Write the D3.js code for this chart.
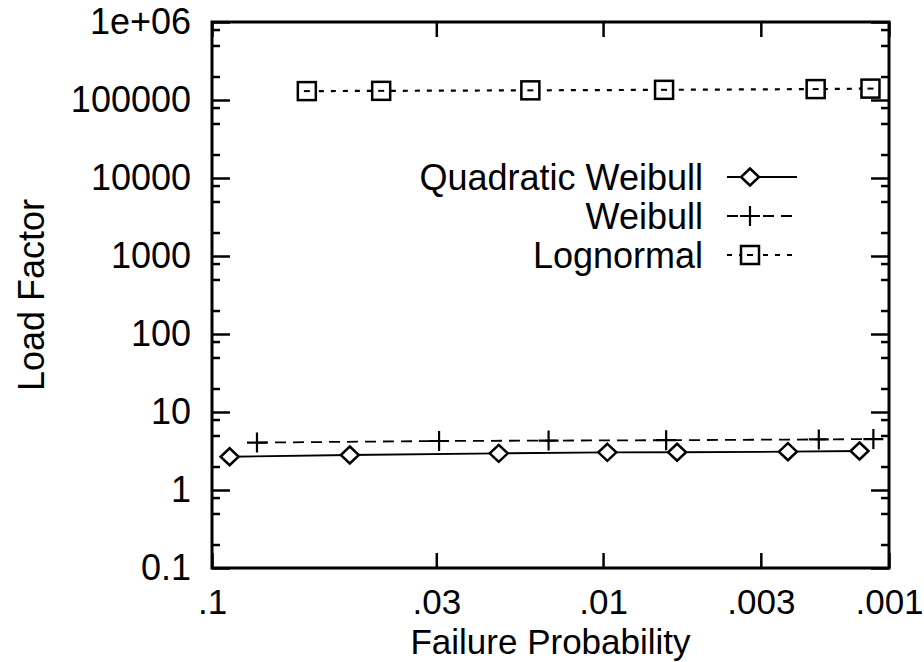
<!DOCTYPE html>
<html>
<head>
<meta charset="utf-8">
<script src="https://cdn.jsdelivr.net/npm/d3@7/dist/d3.min.js"></script>
<style>
    html, body { margin: 0; padding: 0; background: #fff; }
    svg { display: block; }
    text { font-family: "Liberation Sans", Arial, Helvetica, sans-serif; fill: #000; }
</style>
</head>
<body>
<div id="chart"></div>
<script>
    "use strict";

    // failure probability (x) and load factor (y)
    var quadWeibullP = [0.092, 0.0495, 0.0203, 0.0097, 0.0058, 0.0024, 0.0013];
    var quadWeibullLoad = [2.67, 2.81, 2.95, 3.04, 3.05, 3.10, 3.16];

    var weibullP = [0.0805, 0.0295, 0.0146, 0.0063, 0.00185, 0.00115];
    var weibullLoad = [4.05, 4.25, 4.3, 4.35, 4.45, 4.5];

    var lognormalP = [0.0624, 0.0415, 0.0165, 0.0064, 0.0019, 0.00118];
    var lognormalLoad = [130000, 131000, 133000, 135000, 138000, 140000];

    var xTickValues = [0.1, 0.03, 0.01, 0.003, 0.001];
    var xTickLabels = [".1", ".03", ".01", ".003", ".001"];
    var yTickValues = [0.1, 1, 10, 100, 1000, 10000, 100000, 1000000];
    var yTickLabels = ["0.1", "1", "10", "100", "1000", "10000", "100000", "1e+06"];
    var yMinorSteps = [2, 5, 8];

    var legendNames = ["Quadratic Weibull", "Weibull", "Lognormal"];

    // inverse of the standard normal cdf (Acklam)
    function invNorm(p) {
        var a = [-3.969683028665376e+01, 2.209460984245205e+02, -2.759285104469687e+02, 1.383577518672690e+02, -3.066479806614716e+01, 2.506628277459239e+00];
        var b = [-5.447609879822406e+01, 1.615858368580409e+02, -1.556989798598866e+02, 6.680131188771972e+01, -1.328068155288572e+01];
        var c = [-7.784894002430293e-03, -3.223964580411365e-01, -2.400758277161838e+00, -2.549732539343734e+00, 4.374664141464968e+00, 2.938163982698783e+00];
        var d = [7.784695709041462e-03, 3.224671290700398e-01, 2.445134137142996e+00, 3.754408661907416e+00];
        var q, r;
        if (p < 0.02425) {
            q = Math.sqrt(-2 * Math.log(p));
            return (((((c[0] * q + c[1]) * q + c[2]) * q + c[3]) * q + c[4]) * q + c[5]) /
                ((((d[0] * q + d[1]) * q + d[2]) * q + d[3]) * q + 1);
        } else if (p <= 1 - 0.02425) {
            q = p - 0.5;
            r = q * q;
            return (((((a[0] * r + a[1]) * r + a[2]) * r + a[3]) * r + a[4]) * r + a[5]) * q /
                (((((b[0] * r + b[1]) * r + b[2]) * r + b[3]) * r + b[4]) * r + 1);
        }
        q = Math.sqrt(-2 * Math.log(1 - p));
        return -(((((c[0] * q + c[1]) * q + c[2]) * q + c[3]) * q + c[4]) * q + c[5]) /
            ((((d[0] * q + d[1]) * q + d[2]) * q + d[3]) * q + 1);
    }
    // reliability index: x axis is linear in beta
    function beta(p) { return -invNorm(p); }

    var width = 924, height = 662;
    var margin = { top: 22, right: 35, bottom: 94, left: 212 };
    var plotW = width - margin.left - margin.right;
    var plotH = height - margin.top - margin.bottom;

    var x = d3.scaleLinear().domain([beta(0.1), beta(0.001)]).range([0, plotW]);
    var y = d3.scaleLog().domain([0.1, 1e6]).range([plotH, 0]);

    var svg = d3.select("#chart").append("svg")
        .attr("width", width)
        .attr("height", height);
    svg.append("rect").attr("width", width).attr("height", height).attr("fill", "#fff");

    var g = svg.append("g").attr("transform", "translate(" + margin.left + "," + margin.top + ")");

    var yMinor = [];
    yTickValues.slice(0, -1).forEach(function(v) {
        yMinorSteps.forEach(function(s) { yMinor.push(v * s); });
    });

    function styleAxis(sel, size) {
        sel.select(".domain").remove();
        sel.selectAll("line").attr("stroke", "#000").attr("stroke-width", 2.5);
        sel.selectAll("text").attr("font-family", null).attr("fill", "#000").style("font-size", (size || 36) + "px");
    }

    // bottom + top
    g.append("g")
        .attr("transform", "translate(0," + plotH + ")")
        .call(d3.axisBottom(x)
            .tickValues(xTickValues.map(beta))
            .tickFormat(function(d, i) { return xTickLabels[i]; })
            .tickSizeInner(-15).tickSizeOuter(0).tickPadding(21))
        .call(styleAxis, 35);
    g.append("g")
        .call(d3.axisTop(x)
            .tickValues(xTickValues.map(beta))
            .tickFormat("")
            .tickSizeInner(-15).tickSizeOuter(0))
        .call(styleAxis);

    // left + right, major and minor
    g.append("g")
        .call(d3.axisLeft(y)
            .tickValues(yTickValues)
            .tickFormat(function(d, i) { return yTickLabels[i]; })
            .tickSizeInner(-18).tickSizeOuter(0).tickPadding(21))
        .call(styleAxis, 36);
    g.append("g")
        .call(d3.axisLeft(y).tickValues(yMinor).tickFormat("").tickSizeInner(-8).tickSizeOuter(0))
        .call(styleAxis);
    g.append("g")
        .attr("transform", "translate(" + plotW + ",0)")
        .call(d3.axisRight(y).tickValues(yTickValues).tickFormat("").tickSizeInner(-18).tickSizeOuter(0))
        .call(styleAxis);
    g.append("g")
        .attr("transform", "translate(" + plotW + ",0)")
        .call(d3.axisRight(y).tickValues(yMinor).tickFormat("").tickSizeInner(-8).tickSizeOuter(0))
        .call(styleAxis);

    // frame
    g.append("rect")
        .attr("width", plotW)
        .attr("height", plotH)
        .attr("fill", "none")
        .attr("stroke", "#000")
        .attr("stroke-width", 3);

    // axis titles
    svg.append("text")
        .attr("x", margin.left + plotW / 2)
        .attr("y", 654)
        .attr("text-anchor", "middle")
        .style("font-size", "35px")
        .text("Failure Probability");
    svg.append("text")
        .attr("transform", "translate(44," + (margin.top + plotH / 2) + ") rotate(-90)")
        .attr("text-anchor", "middle")
        .style("font-size", "36px")
        .text("Load Factor");

    // markers
    function diamond(sel) {
        sel.append("path").attr("d", "M0,-8.5L9,0L0,8.5L-9,0Z")
            .attr("fill", "#fff").attr("stroke", "#000").attr("stroke-width", 2.5);
    }
    function cross(sel) {
        sel.append("path").attr("d", "M-10,0H10M0,-10V10")
            .attr("fill", "none").attr("stroke", "#000").attr("stroke-width", 2.2);
    }
    function square(sel) {
        sel.append("rect").attr("x", -9).attr("y", -9).attr("width", 18).attr("height", 18)
            .attr("fill", "#fff").attr("stroke", "#000").attr("stroke-width", 2.5);
        sel.append("path").attr("d", "M-3,0H3").attr("stroke", "#000").attr("stroke-width", 2);
    }

    var series = [
        { name: legendNames[0], p: quadWeibullP, v: quadWeibullLoad, dash: null, width: 1.8, marker: diamond },
        { name: legendNames[1], p: weibullP, v: weibullLoad, dash: "11,7", width: 1.8, marker: cross },
        { name: legendNames[2], p: lognormalP, v: lognormalLoad, dash: "5,7", width: 2.2, marker: square }
    ];

    var line = d3.line()
        .x(function(d) { return x(beta(d[0])); })
        .y(function(d) { return y(d[1]); });

    series.forEach(function(s) {
        var pts = d3.zip(s.p, s.v);
        g.append("path")
            .datum(pts)
            .attr("d", line)
            .attr("fill", "none")
            .attr("stroke", "#000")
            .attr("stroke-width", s.width)
            .attr("stroke-dasharray", s.dash);
        g.append("g").selectAll("g")
            .data(pts)
            .enter()
            .append("g")
            .attr("transform", function(d) { return "translate(" + x(beta(d[0])) + "," + y(d[1]) + ")"; })
            .each(function() { s.marker(d3.select(this)); });
    });

    // key
    var key = svg.append("g");
    series.forEach(function(s, i) {
        var cy = 177 + i * 39;
        key.append("text")
            .attr("x", 703)
            .attr("y", cy + 13)
            .attr("text-anchor", "end")
            .style("font-size", "36px")
            .text(s.name);
        key.append("line")
            .attr("x1", 727).attr("x2", 797)
            .attr("y1", cy).attr("y2", cy)
            .attr("stroke", "#000")
            .attr("stroke-width", s.width)
            .attr("stroke-dasharray", s.dash);
        var m = key.append("g").attr("transform", "translate(750," + cy + ")");
        s.marker(m);
    });
</script>
</body>
</html>
